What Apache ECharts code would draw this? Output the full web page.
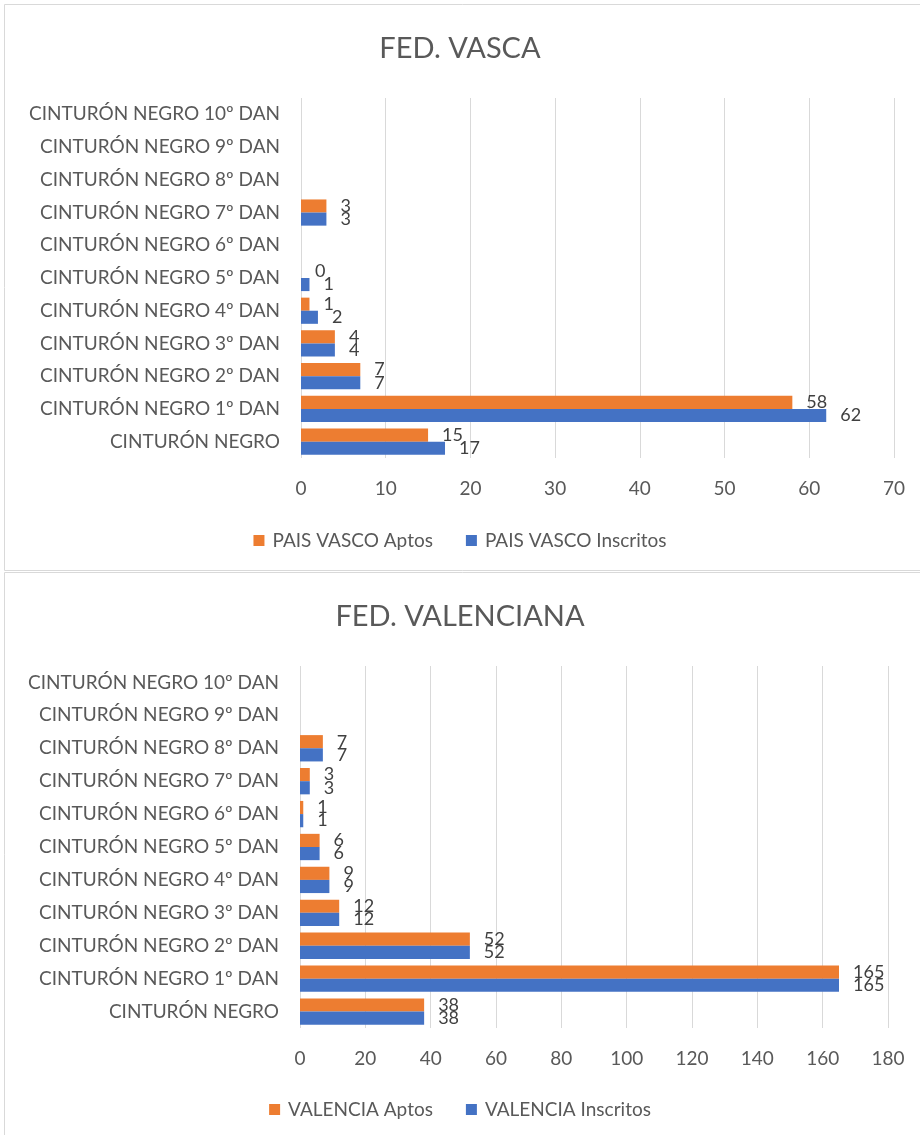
<!DOCTYPE html>
<html><head><meta charset="utf-8">
<script src="https://cdn.jsdelivr.net/npm/echarts@6/dist/echarts.min.js"></script>
<style>html,body{margin:0;padding:0;background:#fff}#c{width:920px;height:1135px}</style>
</head><body><div id="c"></div>
<script>
const categories = ['CINTURÓN NEGRO','CINTURÓN NEGRO 1º DAN','CINTURÓN NEGRO 2º DAN','CINTURÓN NEGRO 3º DAN','CINTURÓN NEGRO 4º DAN','CINTURÓN NEGRO 5º DAN','CINTURÓN NEGRO 6º DAN','CINTURÓN NEGRO 7º DAN','CINTURÓN NEGRO 8º DAN','CINTURÓN NEGRO 9º DAN','CINTURÓN NEGRO 10º DAN'];
const vascoInscritos = [17,62,7,4,2,1,null,3,null,null,null];
const vascoAptos = [15,58,7,4,1,0,null,3,null,null,null];
const valenciaInscritos = [38,165,52,12,9,6,1,3,7,null,null];
const valenciaAptos = [38,165,52,12,9,6,1,3,7,null,null];
const titles = ['FED. VASCA','FED. VALENCIANA'];
const seriesNames = [['PAIS VASCO Aptos','PAIS VASCO Inscritos'],['VALENCIA Aptos','VALENCIA Inscritos']];

const FONT = 'Lato';
const ORANGE = '#ED7D31', BLUE = '#4472C4';
const chart = echarts.init(document.getElementById('c'), null, {renderer:'canvas'});
function barSeries(name, data, color, idx){
  return {name, type:'bar', data, xAxisIndex:idx, yAxisIndex:idx, barGap:'0%', barCategoryGap:'20%',
    itemStyle:{color}, label:{show:true, position:'right', distance:14, color:'#404040', fontFamily:FONT, fontSize:18,
      formatter: p => (p.value===null||p.value===undefined)?'':p.value}};
}
const axisX = (idx, max, interval) => ({gridIndex:idx, type:'value', min:0, max, interval,
  axisLine:{show:false}, axisTick:{show:false},
  axisLabel:{color:'#595959', fontFamily:FONT, fontSize:19, margin:21},
  splitLine:{lineStyle:{color:'#d9d9d9', width:1}}});
const axisY = idx => ({gridIndex:idx, type:'category', data:categories,
  axisLine:{show:false}, axisTick:{show:false},
  axisLabel:{color:'#595959', fontFamily:FONT, fontSize:19, margin:21}});
const legendText = {color:'#595959', fontFamily:FONT, fontSize:19, padding:[0,0,0,3]};
chart.setOption({
  animation:false,
  graphic:[
    {type:'rect', shape:{x:4.5,y:4.5,width:1000,height:566}, style:{fill:'none', stroke:'#d9d9d9', lineWidth:1}},
    {type:'rect', shape:{x:4.5,y:572.5,width:1000,height:600}, style:{fill:'none', stroke:'#d9d9d9', lineWidth:1}}
  ],
  title:[
    {text:titles[0], left:'center', top:29, textStyle:{color:'#595959', fontFamily:FONT, fontSize:29, fontWeight:'normal'}},
    {text:titles[1], left:'center', top:597, textStyle:{color:'#595959', fontFamily:FONT, fontSize:29, fontWeight:'normal'}}
  ],
  legend:[
    {data:seriesNames[0], top:526, left:'center', itemWidth:11, itemHeight:11, itemGap:33, icon:'rect', textStyle:legendText},
    {data:seriesNames[1], top:1095, left:'center', itemWidth:11, itemHeight:11, itemGap:33, icon:'rect', textStyle:legendText}
  ],
  grid:[
    {left:301, top:98, width:593, height:360},
    {left:300, top:666, width:588, height:362}
  ],
  xAxis:[axisX(0,70,10), axisX(1,180,20)],
  yAxis:[axisY(0), axisY(1)],
  series:[
    barSeries(seriesNames[0][0], vascoAptos, ORANGE, 0),
    barSeries(seriesNames[0][1], vascoInscritos, BLUE, 0),
    barSeries(seriesNames[1][0], valenciaAptos, ORANGE, 1),
    barSeries(seriesNames[1][1], valenciaInscritos, BLUE, 1)
  ]
});
</script></body></html>
